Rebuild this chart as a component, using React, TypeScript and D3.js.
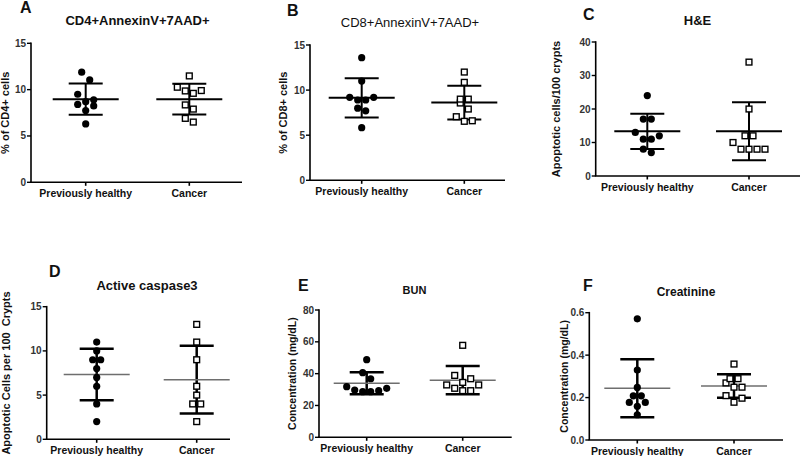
import React from 'react';
import * as d3 from 'd3';

// ---------- data ----------
const categories = ['Previously healthy', 'Cancer'];

const cd4Healthy = [11.88, 11.05, 9.5, 8.9, 8.7, 8.4, 8.24, 7.74, 6.3];
const cd4Cancer = [11.48, 10.26, 9.9, 9.86, 9.6, 8.35, 7.9, 6.9, 6.5];

const cd8Healthy = [13.6, 11.0, 9.2, 9.2, 8.9, 8.9, 8.0, 7.7, 5.83];
const cd8Cancer = [12.0, 10.86, 9.0, 9.0, 8.57, 7.9, 7.05, 6.6, 6.54];

const heHealthy = [24, 17, 17, 13, 12, 11, 11, 8, 7];
const heCancer = [34, 20, 12, 12, 10, 8, 8, 8, 8];

const caspHealthy = [11, 10, 9, 9, 8, 7, 6, 4, 2];
const caspCancer = [13, 11, 9, 6, 5, 4, 4, 2];

const bunHealthy = [48.8, 40.6, 36.8, 31.8, 30.8, 29.7, 29.3, 28.7, 28.7];
const bunCancer = [57.8, 38.9, 36.8, 34.5, 32.9, 32.9, 30.8, 29.3, 29.3];

const creatHealthy = [0.571, 0.33, 0.248, 0.208, 0.208, 0.177, 0.177, 0.159, 0.119];
const creatCancer = [0.358, 0.289, 0.289, 0.269, 0.249, 0.249, 0.209, 0.197, 0.178];

const ticksCD4 = [0, 5, 10, 15];
const ticksCD8 = [0, 5, 10, 15];
const ticksHE = [0, 10, 20, 30, 40];
const ticksCasp = [0, 5, 10, 15];
const ticksBUN = [0, 20, 40, 60, 80];
const ticksCreat = [0, 0.2, 0.4, 0.6];

const panelLetters = ['A', 'B', 'C', 'D', 'E', 'F'];
const panelTitles = ['CD4+AnnexinV+7AAD+', 'CD8+AnnexinV+7AAD+', 'H&E', 'Active caspase3', 'BUN', 'Creatinine'];
const yLabels = [
  '% of CD4+ cells',
  '% of CD8+ cells',
  'Apoptotic cells/100 crypts',
  'Apoptotic Cells per 100  Crypts',
  'Concentration (mg/dL)',
  'Concentration (mg/dL)',
];

// ---------- layout (positions / styles only) ----------
const FONT = '"Liberation Sans", Arial, Helvetica, sans-serif';

type Layout = {
  axisX: number; axisEnd: number; cats: [number, number]; yTop: number; yBot: number;
  lx: number; ly: number; tx: number; ty: number; tSize: number; tWeight: string;
  ylx: number; ylSize: number; meanColor: string; meanW: number; sdW: number; fmt: string;
};

const layouts: Layout[] = [
  { axisX: 31, axisEnd: 242, cats: [85.7, 189.3], yTop: 43.3, yBot: 182.3, lx: 20, ly: 13, tx: 137.5, ty: 25, tSize: 13, tWeight: 'bold', ylx: 9, ylSize: 11, meanColor: '#000', meanW: 2, sdW: 2, fmt: 'd' },
  { axisX: 310, axisEnd: 505, cats: [361.7, 464.3], yTop: 45, yBot: 180.3, lx: 287, ly: 16, tx: 410, ty: 26.5, tSize: 13, tWeight: 'normal', ylx: 287, ylSize: 11, meanColor: '#000', meanW: 2, sdW: 2, fmt: 'd' },
  { axisX: 595.7, axisEnd: 802, cats: [647.3, 749], yTop: 42, yBot: 176, lx: 583, ly: 20, tx: 697.5, ty: 25, tSize: 13, tWeight: 'bold', ylx: 560, ylSize: 11, meanColor: '#000', meanW: 2, sdW: 2, fmt: 'd' },
  { axisX: 46.7, axisEnd: 230, cats: [96.7, 196.7], yTop: 306.7, yBot: 439.3, lx: 49, ly: 277, tx: 147, ty: 290, tSize: 13, tWeight: 'bold', ylx: 10, ylSize: 11, meanColor: '#6e6e6e', meanW: 1.5, sdW: 2.5, fmt: 'd' },
  { axisX: 319, axisEnd: 511.7, cats: [366.7, 462.7], yTop: 310, yBot: 437.3, lx: 298, ly: 291, tx: 414.5, ty: 294, tSize: 11, tWeight: 'bold', ylx: 296, ylSize: 10.5, meanColor: '#6e6e6e', meanW: 1.5, sdW: 2.5, fmt: 'd' },
  { axisX: 589.3, axisEnd: 783, cats: [637.3, 734], yTop: 312.7, yBot: 440, lx: 583, ly: 291, tx: 686, ty: 296, tSize: 12, tWeight: 'bold', ylx: 568, ylSize: 10.5, meanColor: '#6e6e6e', meanW: 1.5, sdW: 2.5, fmt: '.1f' },
];

const panelData: [number[], number[]][] = [
  [cd4Healthy, cd4Cancer],
  [cd8Healthy, cd8Cancer],
  [heHealthy, heCancer],
  [caspHealthy, caspCancer],
  [bunHealthy, bunCancer],
  [creatHealthy, creatCancer],
];
const panelTicks = [ticksCD4, ticksCD8, ticksHE, ticksCasp, ticksBUN, ticksCreat];

// Prism-like scatter layout: bin points into rows, spread each row around center
function swarm(values: number[], y: (v: number) => number, step = 8, thresh = 8) {
  const pts = values.map((v) => ({ v, py: y(v), dx: 0 })).sort((a, b) => b.py - a.py);
  const rows: typeof pts[] = [];
  for (const p of pts) {
    const row = rows[rows.length - 1];
    if (!row || row[0].py - p.py > thresh) rows.push([p]);
    else row.push(p);
  }
  for (const row of rows) {
    const n = row.length;
    row.forEach((p, i) => {
      if (n % 2 === 1) {
        const k = Math.ceil(i / 2);
        p.dx = i === 0 ? 0 : (i % 2 === 1 ? k : -k) * step;
      } else {
        const k = Math.floor(i / 2) + 0.5;
        p.dx = (i % 2 === 0 ? k : -k) * step;
      }
    });
  }
  return pts;
}

function Panel({ idx }: { idx: number }) {
  const L = layouts[idx];
  const ticks = panelTicks[idx];
  const [healthy, cancer] = panelData[idx];
  const y = d3.scaleLinear().domain([0, ticks[ticks.length - 1]]).range([L.yBot, L.yTop]);
  const x = d3.scalePoint<string>().domain(categories).range(L.cats).padding(0);
  const fmt = d3.format(L.fmt);
  const groups = [
    { cat: categories[0], vals: healthy, shape: 'circle' },
    { cat: categories[1], vals: cancer, shape: 'square' },
  ];
  const yMid = (L.yTop + L.yBot) / 2;
  return (
    <g>
      <text x={L.lx} y={L.ly} fontSize={16} fontWeight="bold" fill="#111">{panelLetters[idx]}</text>
      <text x={L.tx} y={L.ty} fontSize={L.tSize} fontWeight={L.tWeight} textAnchor="middle" fill="#111">{panelTitles[idx]}</text>
      <text transform={`translate(${L.ylx},${yMid}) rotate(-90)`} fontSize={L.ylSize} fontWeight="bold" textAnchor="middle" fill="#111" style={{ whiteSpace: 'pre' }}>{yLabels[idx]}</text>
      {/* y axis */}
      <line x1={L.axisX} x2={L.axisX} y1={L.yTop - 0.8} y2={L.yBot} stroke="#000" strokeWidth={1.6} />
      {ticks.map((t) => (
        <g key={t}>
          <line x1={L.axisX - 4} x2={L.axisX} y1={y(t)} y2={y(t)} stroke="#000" strokeWidth={1.4} />
          <text x={L.axisX - 5} y={y(t)} dy="0.35em" fontSize={10} fontWeight="bold" textAnchor="end" fill="#333">{fmt(t)}</text>
        </g>
      ))}
      {/* x axis */}
      <line x1={L.axisX - 0.8} x2={L.axisEnd} y1={L.yBot} y2={L.yBot} stroke="#000" strokeWidth={1.6} />
      {categories.map((c) => (
        <g key={c}>
          <line x1={x(c)!} x2={x(c)!} y1={L.yBot} y2={L.yBot + 3.5} stroke="#000" strokeWidth={1.6} />
          <text x={x(c)!} y={L.yBot + 14.5} fontSize={10.5} fontWeight="bold" textAnchor="middle" fill="#111">{c}</text>
        </g>
      ))}
      {groups.map((g) => {
        const cx = x(g.cat)!;
        const m = d3.mean(g.vals)!;
        const sd = d3.deviation(g.vals)!;
        const pts = swarm(g.vals, y);
        return (
          <g key={g.cat}>
            <line x1={cx} x2={cx} y1={y(m + sd)} y2={y(m - sd)} stroke="#000" strokeWidth={L.sdW} />
            <line x1={cx - 17} x2={cx + 17} y1={y(m + sd)} y2={y(m + sd)} stroke="#000" strokeWidth={L.sdW} />
            <line x1={cx - 17} x2={cx + 17} y1={y(m - sd)} y2={y(m - sd)} stroke="#000" strokeWidth={L.sdW} />
            <line x1={cx - 33} x2={cx + 33} y1={y(m)} y2={y(m)} stroke={L.meanColor} strokeWidth={L.meanW} />
            {pts.map((p, i) =>
              g.shape === 'circle' ? (
                <circle key={i} cx={cx + p.dx} cy={p.py} r={3.6} fill="#000" />
              ) : (
                <rect key={i} x={cx + p.dx - 2.9} y={p.py - 2.9} width={5.8} height={5.8} fill="#fff" stroke="#000" strokeWidth={1.4} />
              )
            )}
          </g>
        );
      })}
    </g>
  );
}

export default function App() {
  return (
    <svg width={800} height={456} viewBox="0 0 800 456" style={{ position: 'absolute', left: 0, top: 0, background: '#fff' }} fontFamily={FONT}>
      <rect width={800} height={456} fill="#fff" />
      {layouts.map((_, i) => (
        <Panel key={i} idx={i} />
      ))}
    </svg>
  );
}
